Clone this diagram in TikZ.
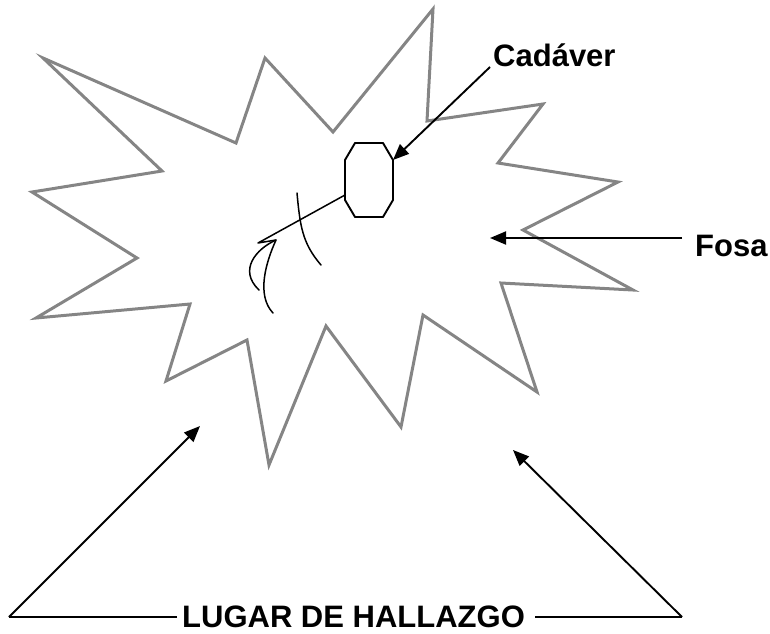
\documentclass[tikz,border=0pt]{standalone}
\usepackage{fontspec}
\setmainfont{Liberation Sans}
\usetikzlibrary{arrows.meta}
\begin{document}
\begin{tikzpicture}[x=1pt,y=-1pt,
  starline/.style={draw=black!48,line width=3pt,line join=miter},
  ink/.style={draw=black,line width=1.9pt},
  thinink/.style={draw=black,line width=1.5pt,line cap=round,line join=round},
  pointer/.style={ink,-{Triangle[length=16pt,width=13pt]}},
  lbl/.style={inner sep=0pt,font=\fontsize{31}{36}\selectfont\bfseries}]
\useasboundingbox (0,0) rectangle (770,633);
% explosion-shaped area (lugar de hallazgo)
\draw[starline] (43,58) -- (236,143) -- (265,58) -- (333,132) -- (433,9) -- (427,121)
  -- (543,104) -- (498,163) -- (618,182) -- (523,230) -- (633,290) -- (501,283)
  -- (537,392) -- (423,315) -- (401,427) -- (326,326) -- (269,465) -- (247,340)
  -- (166,381) -- (190,304) -- (36,318) -- (137,258) -- (32,192) -- (162,171) -- cycle;
% body (octagon)
\coordinate (oct) at (393,160);
\coordinate (octneck) at (345,195);
\draw[ink,line join=round] (355,143) -- (383,143) -- (oct) -- (393,200) -- (383,217)
  -- (355,217) -- (345,200) -- (345,160) -- cycle;
% limbs
\coordinate (hand) at (258,243);
\coordinate (wrist) at (276,240);
\draw[thinink] (octneck) -- (hand) -- (wrist)
  .. controls (266,262) and (256,295) .. (273,313);
\draw[thinink] (wrist) .. controls (256,249) and (238,270) .. (259,290);
\draw[thinink] (297,193) .. controls (300,225) and (302,243) .. (321,265);
% labels
\node[lbl,anchor=base west] (cad) at (493,66) {Cadáver};
\node[lbl,anchor=base west] (fosa) at (695,256) {Fosa};
\node[lbl,anchor=west] (lug) at (182,617) {LUGAR DE HALLAZGO};
\coordinate (cadfoot) at (490,67);
\coordinate (fosastart) at (682,238);
\coordinate (fosaend) at (490,238);
\coordinate (Lcorner) at (9,617);
\coordinate (Rcorner) at (682,617);
\coordinate (Ltip) at (200,426);
\coordinate (Rtip) at (513,450);
% connectors
\draw[pointer] (cadfoot) -- (oct);
\draw[pointer] (fosastart) -- (fosaend);
\draw[ink] ([xshift=-5pt]lug.west) -- (Lcorner);
\draw[pointer] (Lcorner) -- (Ltip);
\draw[ink] ([xshift=10pt]lug.east) -- (Rcorner);
\draw[pointer] (Rcorner) -- (Rtip);
\end{tikzpicture}
\end{document}
